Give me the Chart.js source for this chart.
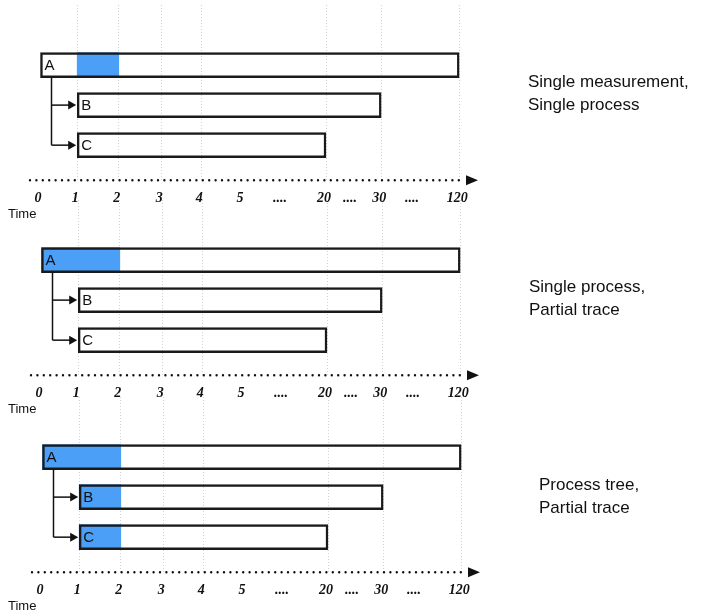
<!DOCTYPE html>
<html>
<head>
<meta charset="utf-8">
<script src="https://cdn.jsdelivr.net/npm/chart.js@4.4.1/dist/chart.umd.min.js"></script>
<style>
  body { margin: 0; background: #fff; }
  #wrap { position: relative; width: 710px; height: 616px; overflow: hidden; }
  .panel { position: absolute; left: 0; width: 710px; height: 217px; }
  .caption { position: absolute; font-family: "Liberation Sans", Arial, sans-serif; font-size: 17px; line-height: 23px; color: #111; }
  .time { position: absolute; left: 8px; font-family: "Liberation Sans", Arial, sans-serif; font-size: 13px; color: #111; }
</style>
</head>
<body>
<div id="wrap"></div>
<script>
// broken time axis: labels and the slot each one sits at
const tickLabels = ['0', '1', '2', '3', '4', '5', '....', '20', '....', '30', '....', '120'];
const tickSlots = [0, 0.93, 1.97, 3.03, 4.03, 5.05, 6.05, 7.15, 7.8, 8.53, 9.35, 10.48];
const gridTicks = ['1', '2', '3', '4', '20', '30', '120'];

// processes
const rows = ['A', 'B', 'C'];
const runStart = [0, 1, 1];
const runEnd = [120, 30, 20];

// traced part per panel (null = not traced)
const traceFrom = [[1, null, null], [0, null, null], [0, 1, 1]];
const traceTo = [[2, null, null], [2, null, null], [2, 2, 2]];

const captions = [
  ['Single measurement,', 'Single process'],
  ['Single process,', 'Partial trace'],
  ['Process tree,', 'Partial trace']
];

const panelTop = [0, 195, 392];
const panelLeft = [0, 1, 2];
const captionPos = [[528, 70], [529, 275], [539, 473]];

const slotOf = t => tickSlots[tickLabels.indexOf(String(t))];

// dotted axis with arrow + letters + tree connectors
const diagramPlugin = {
  id: 'diagram',
  afterDatasetsDraw(chart) {
    const ctx = chart.ctx;
    const area = chart.chartArea;
    const bars = chart.getDatasetMeta(0).data;

    // tree connectors from A to B and C
    const a = bars[0];
    const trunkX = a.base + 11;
    ctx.save();
    ctx.strokeStyle = '#111';
    ctx.fillStyle = '#111';
    ctx.lineWidth = 1.5;
    ctx.beginPath();
    ctx.moveTo(trunkX, a.y + a.height / 2);
    ctx.lineTo(trunkX, bars[2].y);
    ctx.stroke();
    [1, 2].forEach(i => {
      const b = bars[i];
      ctx.beginPath();
      ctx.moveTo(trunkX, b.y);
      ctx.lineTo(b.base - 7, b.y);
      ctx.stroke();
      ctx.beginPath();
      ctx.moveTo(b.base - 1, b.y);
      ctx.lineTo(b.base - 9, b.y - 4.5);
      ctx.lineTo(b.base - 9, b.y + 4.5);
      ctx.closePath();
      ctx.fill();
    });

    // row letters
    ctx.font = '15px "Liberation Sans", Arial, sans-serif';
    ctx.textAlign = 'left';
    ctx.textBaseline = 'middle';
    bars.forEach((b, i) => {
      ctx.fillText(rows[i], b.base + 4, b.y + 1);
    });

    // dotted time axis
    const y = area.bottom;
    ctx.lineWidth = 2.4;
    ctx.lineCap = 'round';
    ctx.setLineDash([0, 6.4]);
    ctx.beginPath();
    ctx.moveTo(area.left, y);
    ctx.lineTo(area.right - 6, y);
    ctx.stroke();
    ctx.setLineDash([]);
    ctx.beginPath();
    ctx.moveTo(area.right + 8, y);
    ctx.lineTo(area.right - 4, y - 5);
    ctx.lineTo(area.right - 4, y + 5);
    ctx.closePath();
    ctx.fill();
    ctx.restore();
  }
};

const wrap = document.getElementById('wrap');

captions.forEach((cap, p) => {
  const div = document.createElement('div');
  div.className = 'panel';
  div.style.top = panelTop[p] + 'px';
  div.style.left = panelLeft[p] + 'px';
  const canvas = document.createElement('canvas');
  div.appendChild(canvas);
  wrap.appendChild(div);

  const capDiv = document.createElement('div');
  capDiv.className = 'caption';
  capDiv.style.left = captionPos[p][0] + 'px';
  capDiv.style.top = captionPos[p][1] + 'px';
  capDiv.innerHTML = cap.join('<br>');
  wrap.appendChild(capDiv);

  const timeDiv = document.createElement('div');
  timeDiv.className = 'time';
  timeDiv.style.top = (panelTop[p] + 206) + 'px';
  timeDiv.textContent = 'Time';
  wrap.appendChild(timeDiv);

  const runData = rows.map((r, i) => ({ y: i, x: [slotOf(runStart[i]), slotOf(runEnd[i])] }));
  const traceData = rows.map((r, i) => traceFrom[p][i] === null ? null :
    ({ y: i, x: [slotOf(traceFrom[p][i]), slotOf(traceTo[p][i])] })).filter(d => d);

  new Chart(canvas, {
    type: 'bar',
    data: {
      datasets: [
        {
          label: 'run',
          data: runData,
          backgroundColor: 'rgba(0,0,0,0)',
          borderColor: '#1a1a1a',
          borderWidth: 1.8,
          borderSkipped: false,
          barThickness: 25,
          grouped: false,
          order: 0
        },
        {
          label: 'traced',
          data: traceData,
          backgroundColor: '#4b9ff6',
          borderWidth: 0,
          barThickness: 25,
          grouped: false,
          order: 1
        }
      ]
    },
    options: {
      indexAxis: 'y',
      responsive: true,
      maintainAspectRatio: false,
      animation: false,
      layout: { padding: { left: 30, right: 240, top: 5, bottom: 0 } },
      plugins: { legend: { display: false }, tooltip: { enabled: false } },
      scales: {
        x: {
          type: 'linear',
          min: -0.25,
          max: 10.75,
          z: 1,
          afterBuildTicks: scale => {
            scale.ticks = tickSlots.map(v => ({ value: v }));
          },
          ticks: {
            autoSkip: false,
            maxRotation: 0,
            padding: 10,
            labelOffset: -2,
            color: '#111',
            font: { family: '"Liberation Serif", serif', style: 'italic', weight: 'bold', size: 14 },
            callback: (v, i) => tickLabels[i]
          },
          grid: {
            drawTicks: false,
            lineWidth: 1,
            color: c => gridTicks.includes(tickLabels[c.index]) ? '#d2d2d2' : 'rgba(0,0,0,0)'
          },
          border: { display: false, dash: [1, 2] }
        },
        y: {
          type: 'linear',
          reverse: true,
          offset: false,
          min: -1.5,
          max: 2.875,
          display: false
        }
      }
    },
    plugins: [diagramPlugin]
  });
});
</script>
</body>
</html>
